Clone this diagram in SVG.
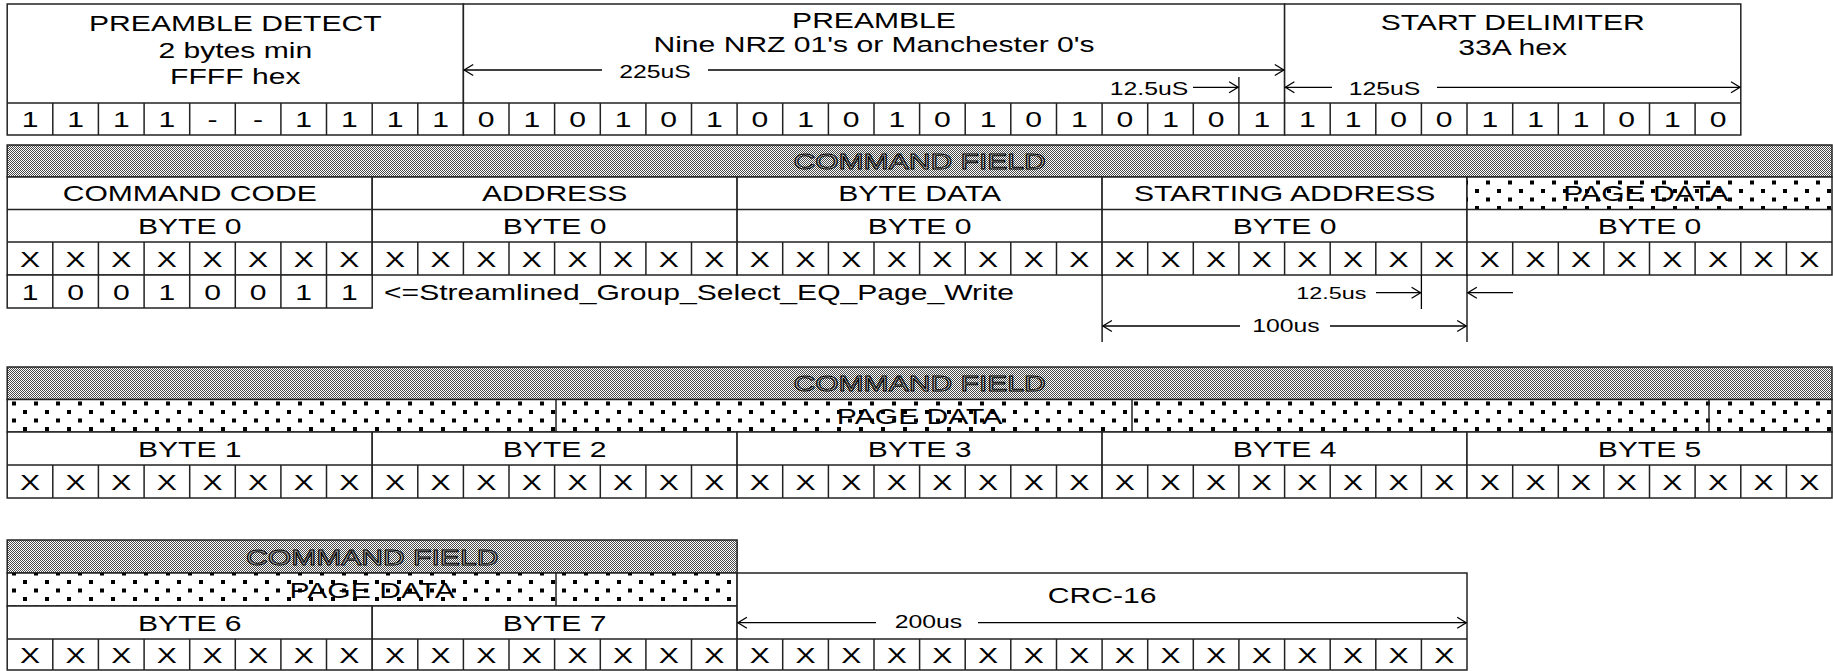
<svg xmlns="http://www.w3.org/2000/svg" width="1833" height="671" viewBox="0 0 1833 671">
<style>
.box{fill:#fff;stroke:#222;stroke-width:1.5}
.ln{fill:none;stroke:#222;stroke-width:1.5}
.dim{fill:none;stroke:#000;stroke-width:1.3}
.t{font-family:"Liberation Sans",Arial,sans-serif;font-size:21.5px;text-anchor:middle;fill:#000}
.s{font-size:17.7px}
.l{text-anchor:start}
.cf{fill:url(#chk);stroke:#000;stroke-width:0.9}
.dt{fill:url(#dots);stroke:none}
.ck{fill:url(#chk);stroke:#222;stroke-width:1.5}
</style>
<defs>
<pattern id="chk" width="2" height="2" patternUnits="userSpaceOnUse"><rect width="2" height="2" fill="#fff"/><rect width="1" height="1" fill="#4a4a4a"/><rect x="1" y="1" width="1" height="1" fill="#4a4a4a"/></pattern>
<pattern id="dots" width="22" height="17" patternUnits="userSpaceOnUse"><rect x="1" y="2" width="4" height="4" fill="#000"/><rect x="12" y="10.5" width="4" height="4" fill="#000"/></pattern>
<marker id="ar" viewBox="-11 -7 13 14" refX="0" refY="0" markerWidth="13" markerHeight="14" markerUnits="userSpaceOnUse" orient="auto"><path d="M-9 -5.5L0 0L-9 5.5" fill="none" stroke="#000" stroke-width="1.3"/></marker>
</defs>

<!-- TOP TABLE -->
<g id="preamble-detect">
<rect class="box" x="7.2" y="4" width="456.2" height="131"/>
<path class="ln" d="M7.2 103H463.4M52.8 103V135M98.4 103V135M144.1 103V135M189.7 103V135M235.3 103V135M280.9 103V135M326.5 103V135M372.2 103V135M417.8 103V135"/>
<text class="t" transform="translate(235.3 31) scale(1.4 1)">PREAMBLE DETECT</text>
<text class="t" transform="translate(235.3 57.5) scale(1.4 1)">2 bytes min</text>
<text class="t" transform="translate(235.3 84) scale(1.4 1)">FFFF hex</text>
<text class="t" transform="translate(30 127) scale(1.4 1)">1</text>
<text class="t" transform="translate(75.6 127) scale(1.4 1)">1</text>
<text class="t" transform="translate(121.3 127) scale(1.4 1)">1</text>
<text class="t" transform="translate(166.9 127) scale(1.4 1)">1</text>
<text class="t" transform="translate(212.5 127) scale(1.4 1)">-</text>
<text class="t" transform="translate(258.1 127) scale(1.4 1)">-</text>
<text class="t" transform="translate(303.7 127) scale(1.4 1)">1</text>
<text class="t" transform="translate(349.4 127) scale(1.4 1)">1</text>
<text class="t" transform="translate(395 127) scale(1.4 1)">1</text>
<text class="t" transform="translate(440.6 127) scale(1.4 1)">1</text>
</g>

<g id="preamble">
<rect class="box" x="463.4" y="4" width="821.2" height="131"/>
<path class="ln" d="M463.4 103H1284.6M509 103V135M554.6 103V135M600.3 103V135M645.9 103V135M691.5 103V135M737.1 103V135M782.7 103V135M828.4 103V135M874 103V135M919.6 103V135M965.2 103V135M1010.8 103V135M1056.5 103V135M1102.1 103V135M1147.7 103V135M1193.3 103V135M1238.9 103V135"/>
<text class="t" transform="translate(874 27.5) scale(1.4 1)">PREAMBLE</text>
<text class="t" transform="translate(874 51.5) scale(1.4 1)">Nine NRZ 01's or Manchester 0's</text>
<text class="t" transform="translate(486.2 127) scale(1.4 1)">0</text>
<text class="t" transform="translate(531.8 127) scale(1.4 1)">1</text>
<text class="t" transform="translate(577.5 127) scale(1.4 1)">0</text>
<text class="t" transform="translate(623.1 127) scale(1.4 1)">1</text>
<text class="t" transform="translate(668.7 127) scale(1.4 1)">0</text>
<text class="t" transform="translate(714.3 127) scale(1.4 1)">1</text>
<text class="t" transform="translate(759.9 127) scale(1.4 1)">0</text>
<text class="t" transform="translate(805.6 127) scale(1.4 1)">1</text>
<text class="t" transform="translate(851.2 127) scale(1.4 1)">0</text>
<text class="t" transform="translate(896.8 127) scale(1.4 1)">1</text>
<text class="t" transform="translate(942.4 127) scale(1.4 1)">0</text>
<text class="t" transform="translate(988 127) scale(1.4 1)">1</text>
<text class="t" transform="translate(1033.7 127) scale(1.4 1)">0</text>
<text class="t" transform="translate(1079.3 127) scale(1.4 1)">1</text>
<text class="t" transform="translate(1124.9 127) scale(1.4 1)">0</text>
<text class="t" transform="translate(1170.5 127) scale(1.4 1)">1</text>
<text class="t" transform="translate(1216.1 127) scale(1.4 1)">0</text>
<text class="t" transform="translate(1261.8 127) scale(1.4 1)">1</text>
</g>

<g id="start-delimiter">
<rect class="box" x="1284.6" y="4" width="456.2" height="131"/>
<path class="ln" d="M1284.6 103H1740.8M1330.2 103V135M1375.8 103V135M1421.4 103V135M1467 103V135M1512.7 103V135M1558.3 103V135M1603.9 103V135M1649.5 103V135M1695.1 103V135"/>
<text class="t" transform="translate(1512.7 30) scale(1.4 1)">START DELIMITER</text>
<text class="t" transform="translate(1512.7 54.5) scale(1.4 1)">33A hex</text>
<text class="t" transform="translate(1307.4 127) scale(1.4 1)">1</text>
<text class="t" transform="translate(1353 127) scale(1.4 1)">1</text>
<text class="t" transform="translate(1398.6 127) scale(1.4 1)">0</text>
<text class="t" transform="translate(1444.2 127) scale(1.4 1)">0</text>
<text class="t" transform="translate(1489.9 127) scale(1.4 1)">1</text>
<text class="t" transform="translate(1535.5 127) scale(1.4 1)">1</text>
<text class="t" transform="translate(1581.1 127) scale(1.4 1)">1</text>
<text class="t" transform="translate(1626.7 127) scale(1.4 1)">0</text>
<text class="t" transform="translate(1672.3 127) scale(1.4 1)">1</text>
<text class="t" transform="translate(1718 127) scale(1.4 1)">0</text>
</g>

<!-- SECTION 1 -->
<g id="command-field-1">
<rect class="ck" x="7.2" y="145" width="1824.8" height="32"/>
<text class="t cf" transform="translate(919.6 169) scale(1.4 1)">COMMAND FIELD</text>
</g>

<g id="command-code">
<rect class="box" x="7.2" y="177" width="365" height="98"/>
<path class="ln" d="M7.2 209.5H372.2M7.2 242H372.2M52.8 242V275M98.4 242V275M144.1 242V275M189.7 242V275M235.3 242V275M280.9 242V275M326.5 242V275"/>
<text class="t" transform="translate(189.7 200.5) scale(1.4 1)">COMMAND CODE</text>
<text class="t" transform="translate(189.7 233.5) scale(1.4 1)">BYTE 0</text>
<text class="t" transform="translate(30 266.5) scale(1.4 1)">X</text>
<text class="t" transform="translate(75.6 266.5) scale(1.4 1)">X</text>
<text class="t" transform="translate(121.3 266.5) scale(1.4 1)">X</text>
<text class="t" transform="translate(166.9 266.5) scale(1.4 1)">X</text>
<text class="t" transform="translate(212.5 266.5) scale(1.4 1)">X</text>
<text class="t" transform="translate(258.1 266.5) scale(1.4 1)">X</text>
<text class="t" transform="translate(303.7 266.5) scale(1.4 1)">X</text>
<text class="t" transform="translate(349.4 266.5) scale(1.4 1)">X</text>
</g>

<g id="command-bits">
<rect class="box" x="7.2" y="275" width="365" height="33"/>
<path class="ln" d="M52.8 275V308M98.4 275V308M144.1 275V308M189.7 275V308M235.3 275V308M280.9 275V308M326.5 275V308"/>
<text class="t" transform="translate(30 299.5) scale(1.4 1)">1</text>
<text class="t" transform="translate(75.6 299.5) scale(1.4 1)">0</text>
<text class="t" transform="translate(121.3 299.5) scale(1.4 1)">0</text>
<text class="t" transform="translate(166.9 299.5) scale(1.4 1)">1</text>
<text class="t" transform="translate(212.5 299.5) scale(1.4 1)">0</text>
<text class="t" transform="translate(258.1 299.5) scale(1.4 1)">0</text>
<text class="t" transform="translate(303.7 299.5) scale(1.4 1)">1</text>
<text class="t" transform="translate(349.4 299.5) scale(1.4 1)">1</text>
<text class="t l" transform="translate(384 300) scale(1.4 1)">&lt;=Streamlined_Group_Select_EQ_Page_Write</text>
</g>

<g id="address">
<rect class="box" x="372.2" y="177" width="364.9" height="98"/>
<path class="ln" d="M372.2 209.5H737.1M372.2 242H737.1M417.8 242V275M463.4 242V275M509 242V275M554.6 242V275M600.3 242V275M645.9 242V275M691.5 242V275"/>
<text class="t" transform="translate(554.6 200.5) scale(1.4 1)">ADDRESS</text>
<text class="t" transform="translate(554.6 233.5) scale(1.4 1)">BYTE 0</text>
<text class="t" transform="translate(395 266.5) scale(1.4 1)">X</text>
<text class="t" transform="translate(440.6 266.5) scale(1.4 1)">X</text>
<text class="t" transform="translate(486.2 266.5) scale(1.4 1)">X</text>
<text class="t" transform="translate(531.8 266.5) scale(1.4 1)">X</text>
<text class="t" transform="translate(577.5 266.5) scale(1.4 1)">X</text>
<text class="t" transform="translate(623.1 266.5) scale(1.4 1)">X</text>
<text class="t" transform="translate(668.7 266.5) scale(1.4 1)">X</text>
<text class="t" transform="translate(714.3 266.5) scale(1.4 1)">X</text>
</g>

<g id="byte-data">
<rect class="box" x="737.1" y="177" width="365" height="98"/>
<path class="ln" d="M737.1 209.5H1102.1M737.1 242H1102.1M782.7 242V275M828.4 242V275M874 242V275M919.6 242V275M965.2 242V275M1010.8 242V275M1056.5 242V275"/>
<text class="t" transform="translate(919.6 200.5) scale(1.4 1)">BYTE DATA</text>
<text class="t" transform="translate(919.6 233.5) scale(1.4 1)">BYTE 0</text>
<text class="t" transform="translate(759.9 266.5) scale(1.4 1)">X</text>
<text class="t" transform="translate(805.6 266.5) scale(1.4 1)">X</text>
<text class="t" transform="translate(851.2 266.5) scale(1.4 1)">X</text>
<text class="t" transform="translate(896.8 266.5) scale(1.4 1)">X</text>
<text class="t" transform="translate(942.4 266.5) scale(1.4 1)">X</text>
<text class="t" transform="translate(988 266.5) scale(1.4 1)">X</text>
<text class="t" transform="translate(1033.7 266.5) scale(1.4 1)">X</text>
<text class="t" transform="translate(1079.3 266.5) scale(1.4 1)">X</text>
</g>

<g id="starting-address">
<rect class="box" x="1102.1" y="177" width="364.9" height="98"/>
<path class="ln" d="M1102.1 209.5H1467M1102.1 242H1467M1147.7 242V275M1193.3 242V275M1238.9 242V275M1284.6 242V275M1330.2 242V275M1375.8 242V275M1421.4 242V275"/>
<text class="t" transform="translate(1284.6 200.5) scale(1.4 1)">STARTING ADDRESS</text>
<text class="t" transform="translate(1284.6 233.5) scale(1.4 1)">BYTE 0</text>
<text class="t" transform="translate(1124.9 266.5) scale(1.4 1)">X</text>
<text class="t" transform="translate(1170.5 266.5) scale(1.4 1)">X</text>
<text class="t" transform="translate(1216.1 266.5) scale(1.4 1)">X</text>
<text class="t" transform="translate(1261.8 266.5) scale(1.4 1)">X</text>
<text class="t" transform="translate(1307.4 266.5) scale(1.4 1)">X</text>
<text class="t" transform="translate(1353 266.5) scale(1.4 1)">X</text>
<text class="t" transform="translate(1398.6 266.5) scale(1.4 1)">X</text>
<text class="t" transform="translate(1444.2 266.5) scale(1.4 1)">X</text>
</g>

<g id="page-data-0">
<rect class="box" x="1467" y="177" width="365" height="98"/>
<text class="t" transform="translate(1646 200.5) scale(1.4 1)">PAGE DATA</text>
<rect class="dt" x="1467" y="177" width="365" height="32.5"/>
<path class="ln" d="M1467 209.5H1832M1467 242H1832M1512.7 242V275M1558.3 242V275M1603.9 242V275M1649.5 242V275M1695.1 242V275M1740.8 242V275M1786.4 242V275"/>
<text class="t" transform="translate(1649.5 233.5) scale(1.4 1)">BYTE 0</text>
<text class="t" transform="translate(1489.9 266.5) scale(1.4 1)">X</text>
<text class="t" transform="translate(1535.5 266.5) scale(1.4 1)">X</text>
<text class="t" transform="translate(1581.1 266.5) scale(1.4 1)">X</text>
<text class="t" transform="translate(1626.7 266.5) scale(1.4 1)">X</text>
<text class="t" transform="translate(1672.3 266.5) scale(1.4 1)">X</text>
<text class="t" transform="translate(1718 266.5) scale(1.4 1)">X</text>
<text class="t" transform="translate(1763.6 266.5) scale(1.4 1)">X</text>
<text class="t" transform="translate(1809.2 266.5) scale(1.4 1)">X</text>
</g>

<!-- SECTION 2 -->
<g id="command-field-2">
<rect class="ck" x="7.2" y="367" width="1824.8" height="32.5"/>
<text class="t cf" transform="translate(919.6 391) scale(1.4 1)">COMMAND FIELD</text>
<rect class="box" x="7.2" y="399.5" width="1824.8" height="32.5"/>
<text class="t" transform="translate(919.6 423.5) scale(1.4 1)">PAGE DATA</text>
<rect class="dt" x="7.2" y="399.5" width="1824.8" height="32.5"/>
<path class="ln" d="M556 399.5V432M1132 399.5V432M1709 399.5V432" stroke-width="1"/>
</g>

<g id="byte-1">
<rect class="box" x="7.2" y="432" width="365" height="66"/>
<path class="ln" d="M7.2 465H372.2M52.8 465V498M98.4 465V498M144.1 465V498M189.7 465V498M235.3 465V498M280.9 465V498M326.5 465V498"/>
<text class="t" transform="translate(189.7 456.5) scale(1.4 1)">BYTE 1</text>
<text class="t" transform="translate(30 489.5) scale(1.4 1)">X</text>
<text class="t" transform="translate(75.6 489.5) scale(1.4 1)">X</text>
<text class="t" transform="translate(121.3 489.5) scale(1.4 1)">X</text>
<text class="t" transform="translate(166.9 489.5) scale(1.4 1)">X</text>
<text class="t" transform="translate(212.5 489.5) scale(1.4 1)">X</text>
<text class="t" transform="translate(258.1 489.5) scale(1.4 1)">X</text>
<text class="t" transform="translate(303.7 489.5) scale(1.4 1)">X</text>
<text class="t" transform="translate(349.4 489.5) scale(1.4 1)">X</text>
</g>

<g id="byte-2">
<rect class="box" x="372.2" y="432" width="364.9" height="66"/>
<path class="ln" d="M372.2 465H737.1M417.8 465V498M463.4 465V498M509 465V498M554.6 465V498M600.3 465V498M645.9 465V498M691.5 465V498"/>
<text class="t" transform="translate(554.6 456.5) scale(1.4 1)">BYTE 2</text>
<text class="t" transform="translate(395 489.5) scale(1.4 1)">X</text>
<text class="t" transform="translate(440.6 489.5) scale(1.4 1)">X</text>
<text class="t" transform="translate(486.2 489.5) scale(1.4 1)">X</text>
<text class="t" transform="translate(531.8 489.5) scale(1.4 1)">X</text>
<text class="t" transform="translate(577.5 489.5) scale(1.4 1)">X</text>
<text class="t" transform="translate(623.1 489.5) scale(1.4 1)">X</text>
<text class="t" transform="translate(668.7 489.5) scale(1.4 1)">X</text>
<text class="t" transform="translate(714.3 489.5) scale(1.4 1)">X</text>
</g>

<g id="byte-3">
<rect class="box" x="737.1" y="432" width="365" height="66"/>
<path class="ln" d="M737.1 465H1102.1M782.7 465V498M828.4 465V498M874 465V498M919.6 465V498M965.2 465V498M1010.8 465V498M1056.5 465V498"/>
<text class="t" transform="translate(919.6 456.5) scale(1.4 1)">BYTE 3</text>
<text class="t" transform="translate(759.9 489.5) scale(1.4 1)">X</text>
<text class="t" transform="translate(805.6 489.5) scale(1.4 1)">X</text>
<text class="t" transform="translate(851.2 489.5) scale(1.4 1)">X</text>
<text class="t" transform="translate(896.8 489.5) scale(1.4 1)">X</text>
<text class="t" transform="translate(942.4 489.5) scale(1.4 1)">X</text>
<text class="t" transform="translate(988 489.5) scale(1.4 1)">X</text>
<text class="t" transform="translate(1033.7 489.5) scale(1.4 1)">X</text>
<text class="t" transform="translate(1079.3 489.5) scale(1.4 1)">X</text>
</g>

<g id="byte-4">
<rect class="box" x="1102.1" y="432" width="364.9" height="66"/>
<path class="ln" d="M1102.1 465H1467M1147.7 465V498M1193.3 465V498M1238.9 465V498M1284.6 465V498M1330.2 465V498M1375.8 465V498M1421.4 465V498"/>
<text class="t" transform="translate(1284.6 456.5) scale(1.4 1)">BYTE 4</text>
<text class="t" transform="translate(1124.9 489.5) scale(1.4 1)">X</text>
<text class="t" transform="translate(1170.5 489.5) scale(1.4 1)">X</text>
<text class="t" transform="translate(1216.1 489.5) scale(1.4 1)">X</text>
<text class="t" transform="translate(1261.8 489.5) scale(1.4 1)">X</text>
<text class="t" transform="translate(1307.4 489.5) scale(1.4 1)">X</text>
<text class="t" transform="translate(1353 489.5) scale(1.4 1)">X</text>
<text class="t" transform="translate(1398.6 489.5) scale(1.4 1)">X</text>
<text class="t" transform="translate(1444.2 489.5) scale(1.4 1)">X</text>
</g>

<g id="byte-5">
<rect class="box" x="1467" y="432" width="365" height="66"/>
<path class="ln" d="M1467 465H1832M1512.7 465V498M1558.3 465V498M1603.9 465V498M1649.5 465V498M1695.1 465V498M1740.8 465V498M1786.4 465V498"/>
<text class="t" transform="translate(1649.5 456.5) scale(1.4 1)">BYTE 5</text>
<text class="t" transform="translate(1489.9 489.5) scale(1.4 1)">X</text>
<text class="t" transform="translate(1535.5 489.5) scale(1.4 1)">X</text>
<text class="t" transform="translate(1581.1 489.5) scale(1.4 1)">X</text>
<text class="t" transform="translate(1626.7 489.5) scale(1.4 1)">X</text>
<text class="t" transform="translate(1672.3 489.5) scale(1.4 1)">X</text>
<text class="t" transform="translate(1718 489.5) scale(1.4 1)">X</text>
<text class="t" transform="translate(1763.6 489.5) scale(1.4 1)">X</text>
<text class="t" transform="translate(1809.2 489.5) scale(1.4 1)">X</text>
</g>

<!-- SECTION 3 -->
<g id="command-field-3">
<rect class="ck" x="7.2" y="540" width="729.9" height="33"/>
<text class="t cf" transform="translate(372.2 564.5) scale(1.4 1)">COMMAND FIELD</text>
<rect class="box" x="7.2" y="573" width="729.9" height="33"/>
<text class="t" transform="translate(372.2 597.5) scale(1.4 1)">PAGE DATA</text>
<rect class="dt" x="7.2" y="573" width="729.9" height="33"/>
<path class="ln" d="M556 573V606" stroke-width="1"/>
</g>

<g id="byte-6">
<rect class="box" x="7.2" y="606" width="365" height="64"/>
<path class="ln" d="M7.2 639H372.2M52.8 639V670M98.4 639V670M144.1 639V670M189.7 639V670M235.3 639V670M280.9 639V670M326.5 639V670"/>
<text class="t" transform="translate(189.7 630.5) scale(1.4 1)">BYTE 6</text>
<text class="t" transform="translate(30 662.5) scale(1.4 1)">X</text>
<text class="t" transform="translate(75.6 662.5) scale(1.4 1)">X</text>
<text class="t" transform="translate(121.3 662.5) scale(1.4 1)">X</text>
<text class="t" transform="translate(166.9 662.5) scale(1.4 1)">X</text>
<text class="t" transform="translate(212.5 662.5) scale(1.4 1)">X</text>
<text class="t" transform="translate(258.1 662.5) scale(1.4 1)">X</text>
<text class="t" transform="translate(303.7 662.5) scale(1.4 1)">X</text>
<text class="t" transform="translate(349.4 662.5) scale(1.4 1)">X</text>
</g>

<g id="byte-7">
<rect class="box" x="372.2" y="606" width="364.9" height="64"/>
<path class="ln" d="M372.2 639H737.1M417.8 639V670M463.4 639V670M509 639V670M554.6 639V670M600.3 639V670M645.9 639V670M691.5 639V670"/>
<text class="t" transform="translate(554.6 630.5) scale(1.4 1)">BYTE 7</text>
<text class="t" transform="translate(395 662.5) scale(1.4 1)">X</text>
<text class="t" transform="translate(440.6 662.5) scale(1.4 1)">X</text>
<text class="t" transform="translate(486.2 662.5) scale(1.4 1)">X</text>
<text class="t" transform="translate(531.8 662.5) scale(1.4 1)">X</text>
<text class="t" transform="translate(577.5 662.5) scale(1.4 1)">X</text>
<text class="t" transform="translate(623.1 662.5) scale(1.4 1)">X</text>
<text class="t" transform="translate(668.7 662.5) scale(1.4 1)">X</text>
<text class="t" transform="translate(714.3 662.5) scale(1.4 1)">X</text>
</g>

<g id="crc-16">
<rect class="box" x="737.1" y="573" width="729.9" height="97"/>
<path class="ln" d="M737.1 639H1467M782.7 639V670M828.4 639V670M874 639V670M919.6 639V670M965.2 639V670M1010.8 639V670M1056.5 639V670M1102.1 639V670M1147.7 639V670M1193.3 639V670M1238.9 639V670M1284.6 639V670M1330.2 639V670M1375.8 639V670M1421.4 639V670"/>
<text class="t" transform="translate(1102.1 602.5) scale(1.4 1)">CRC-16</text>
<text class="t" transform="translate(759.9 662.5) scale(1.4 1)">X</text>
<text class="t" transform="translate(805.6 662.5) scale(1.4 1)">X</text>
<text class="t" transform="translate(851.2 662.5) scale(1.4 1)">X</text>
<text class="t" transform="translate(896.8 662.5) scale(1.4 1)">X</text>
<text class="t" transform="translate(942.4 662.5) scale(1.4 1)">X</text>
<text class="t" transform="translate(988 662.5) scale(1.4 1)">X</text>
<text class="t" transform="translate(1033.7 662.5) scale(1.4 1)">X</text>
<text class="t" transform="translate(1079.3 662.5) scale(1.4 1)">X</text>
<text class="t" transform="translate(1124.9 662.5) scale(1.4 1)">X</text>
<text class="t" transform="translate(1170.5 662.5) scale(1.4 1)">X</text>
<text class="t" transform="translate(1216.1 662.5) scale(1.4 1)">X</text>
<text class="t" transform="translate(1261.8 662.5) scale(1.4 1)">X</text>
<text class="t" transform="translate(1307.4 662.5) scale(1.4 1)">X</text>
<text class="t" transform="translate(1353 662.5) scale(1.4 1)">X</text>
<text class="t" transform="translate(1398.6 662.5) scale(1.4 1)">X</text>
<text class="t" transform="translate(1444.2 662.5) scale(1.4 1)">X</text>
</g>

<!-- DIMENSIONS / CONNECTORS -->
<g id="connectors">
<path class="dim" d="M1238.9 77V103"/>
<path class="dim" d="M1421.4 275V309M1102.1 275V342M1467 275V342"/>
<line class="dim" x1="602" y1="70" x2="464.2" y2="70" marker-end="url(#ar)"/>
<line class="dim" x1="708" y1="70" x2="1283.8" y2="70" marker-end="url(#ar)"/>
<line class="dim" x1="1193" y1="87.3" x2="1238.1" y2="87.3" marker-end="url(#ar)"/>
<line class="dim" x1="1332" y1="87.3" x2="1285.4" y2="87.3" marker-end="url(#ar)"/>
<line class="dim" x1="1437" y1="87.3" x2="1740" y2="87.3" marker-end="url(#ar)"/>
<line class="dim" x1="1376" y1="292.7" x2="1420.6" y2="292.7" marker-end="url(#ar)"/>
<line class="dim" x1="1513" y1="292.7" x2="1467.8" y2="292.7" marker-end="url(#ar)"/>
<line class="dim" x1="1240" y1="326" x2="1102.9" y2="326" marker-end="url(#ar)"/>
<line class="dim" x1="1330" y1="326" x2="1466.2" y2="326" marker-end="url(#ar)"/>
<line class="dim" x1="876" y1="622.7" x2="737.9" y2="622.7" marker-end="url(#ar)"/>
<line class="dim" x1="978" y1="622.7" x2="1466.2" y2="622.7" marker-end="url(#ar)"/>
<text class="t s" transform="translate(655 77.5) scale(1.4 1)">225uS</text>
<text class="t s" transform="translate(1149 94.5) scale(1.4 1)">12.5uS</text>
<text class="t s" transform="translate(1384.5 94.5) scale(1.4 1)">125uS</text>
<text class="t s" transform="translate(1331.3 298.5) scale(1.4 1)" style="font-size:16.7px">12.5us</text>
<text class="t s" transform="translate(1285.9 332) scale(1.4 1)">100us</text>
<text class="t s" transform="translate(928.4 627.5) scale(1.4 1)">200us</text>
</g>
</svg>
